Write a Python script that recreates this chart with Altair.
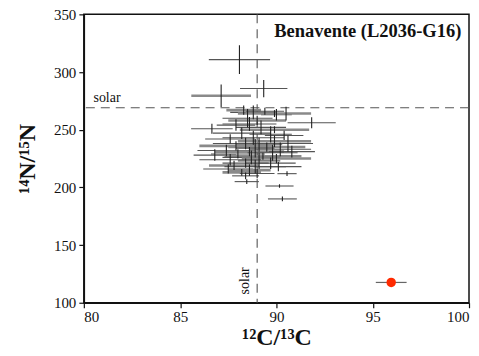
import altair as alt
import pandas as pd

# grain measurements: 12C/13C, error, 14N/15N, error, style group
x_vals = [88.08, 89.34, 87.13, 91.83, 86.65, 90.16, 90.31, 88.46, 90.55,
          88.3, 88.8, 89.4, 90.0, 90.5, 89.9, 88.5, 89.0, 88.6, 87.9,
          89.9, 89.2, 88.2, 89.7, 90.4, 88.8, 87.6, 89.9, 88.4, 90.6,
          89.1, 87.9, 89.5, 88.9, 90.2, 87.4, 88.6, 89.8, 90.8, 88.0,
          86.8, 89.3, 88.7, 90.0, 87.6, 89.1, 88.4, 89.7, 87.8, 88.9,
          90.1, 87.5, 88.6, 88.2, 89.0, 88.4]
x_err = [1.59, 1.23, 1.55, 1.25, 1.08, 0.73, 0.75, 0.63, 0.5,
         0.9, 1.2, 1.0, 0.8, 1.2, 1.9, 1.3, 1.5, 1.4, 1.0,
         1.8, 1.3, 1.5, 1.1, 1.0, 1.6, 1.3, 1.9, 1.7, 1.3,
         1.2, 1.9, 2.0, 1.0, 1.6, 1.5, 1.8, 1.3, 1.2, 1.4,
         1.1, 2.0, 1.5, 1.8, 1.6, 1.1, 1.2, 1.3, 1.3, 1.6,
         1.2, 1.3, 1.1, 1.0, 0.9, 0.7]
y_vals = [310.8, 285.7, 279.4, 256.0, 250.8, 201.2, 190.0, 205.0, 211.9,
          267, 265, 266, 263, 264, 264, 260, 258, 255, 254,
          250, 252, 247, 246, 245, 243, 242, 240, 238, 238,
          237, 236, 235, 234, 233, 232, 231, 230, 231, 229,
          228, 227, 226, 225, 224, 223, 221, 221, 219, 218,
          218, 216, 215, 213, 212, 210]
y_err = [12.5, 7.5, 9.7, 4.8, 4.3, 1.5, 2.0, 2.0, 2.0,
         4, 6, 3, 5, 6, 3, 8, 4, 6, 5,
         3, 6, 5, 7, 4, 6, 4, 5, 5, 7,
         6, 4, 4, 8, 6, 5, 4, 7, 5, 4,
         5, 3, 6, 4, 5, 7, 4, 5, 4, 6,
         4, 4, 5, 3, 4, 3]
groups = ["A", "A", "B", "A", "A", "A", "A", "A", "A",
          "B", "A", "A", "A", "A", "B", "A", "B", "A", "A",
          "B", "A", "A", "A", "A", "A", "A", "B", "A", "A",
          "A", "B", "B", "A", "A", "A", "B", "A", "A", "A",
          "A", "B", "A", "B", "A", "A", "A", "A", "B", "A",
          "A", "A", "B", "B", "A", "A"]

# special grain (red)
red_x = [95.96]
red_xerr = [0.8]
red_y = [117.6]

solar_c = 89.0
solar_n = 269.0

df = pd.DataFrame({"x": x_vals, "xe": x_err, "y": y_vals, "ye": y_err, "g": groups})
df["x1"] = df["x"] - df["xe"]
df["x2"] = df["x"] + df["xe"]
df["y1"] = df["y"] - df["ye"]
df["y2"] = df["y"] + df["ye"]

rdf = pd.DataFrame({"x": red_x, "xe": red_xerr, "y": red_y})
rdf["x1"] = rdf["x"] - rdf["xe"]
rdf["x2"] = rdf["x"] + rdf["xe"]

xs = alt.Scale(domain=[80, 100], nice=False, zero=False)
ys = alt.Scale(domain=[100, 350], nice=False, zero=False)

xaxis = alt.Axis(values=[80, 85, 90, 95, 100], title="¹²C/¹³C", grid=False,
                 labelPadding=2, titlePadding=1)
yaxis = alt.Axis(values=[100, 150, 200, 250, 300, 350], title="¹⁴N/¹⁵N", grid=False,
                 labelPadding=3, titlePadding=14)

base = alt.Chart(df)

hbars = base.mark_rule().encode(
    x=alt.X("x1:Q", scale=xs, axis=xaxis),
    x2="x2:Q",
    y=alt.Y("y:Q", scale=ys, axis=yaxis),
    color=alt.Color("g:N", scale=alt.Scale(domain=["A", "B"], range=["#555555", "#8a8a8a"]), legend=None),
    strokeWidth=alt.StrokeWidth("g:N", scale=alt.Scale(domain=["A", "B"], range=[1.1, 2.6]), legend=None),
)
vbars = base.mark_rule(color="#222222", strokeWidth=1.1).encode(
    x=alt.X("x:Q", scale=xs, axis=xaxis),
    y=alt.Y("y1:Q", scale=ys, axis=yaxis),
    y2="y2:Q",
)

sol_c = alt.Chart(pd.DataFrame({"v": [solar_c]})).mark_rule(
    color="#555", strokeDash=[9, 6], strokeWidth=1.1).encode(x=alt.X("v:Q", scale=xs, axis=xaxis))
sol_n = alt.Chart(pd.DataFrame({"v": [solar_n]})).mark_rule(
    color="#555", strokeDash=[9, 6], strokeWidth=1.1).encode(y=alt.Y("v:Q", scale=ys, axis=yaxis))

rbar = alt.Chart(rdf).mark_rule(color="#666", strokeWidth=1.2).encode(
    x=alt.X("x1:Q", scale=xs, axis=xaxis), x2="x2:Q", y=alt.Y("y:Q", scale=ys, axis=yaxis))
rdot = alt.Chart(rdf).mark_circle(color="#ff2a00", opacity=1, size=90).encode(
    x=alt.X("x:Q", scale=xs, axis=xaxis), y=alt.Y("y:Q", scale=ys, axis=yaxis))

label_df = pd.DataFrame({"x": [80.5], "y": [271.0], "t": ["solar"]})
lab_h = alt.Chart(label_df).mark_text(
    align="left", baseline="bottom", font="Liberation Serif", fontSize=14, color="#111"
).encode(x=alt.X("x:Q", scale=xs, axis=xaxis), y=alt.Y("y:Q", scale=ys, axis=yaxis), text="t:N")

label_v = pd.DataFrame({"x": [88.75], "y": [119.0], "t": ["solar"]})
lab_v = alt.Chart(label_v).mark_text(
    align="center", baseline="bottom", angle=270, font="Liberation Serif", fontSize=14, color="#111"
).encode(x=alt.X("x:Q", scale=xs, axis=xaxis), y=alt.Y("y:Q", scale=ys, axis=yaxis), text="t:N")

title_df = pd.DataFrame({"x": [99.6], "y": [343.0], "t": ["Benavente (L2036-G16)"]})
ttl = alt.Chart(title_df).mark_text(
    align="right", baseline="top", font="Liberation Serif", fontSize=18.5, fontWeight="bold", color="#111"
).encode(x=alt.X("x:Q", scale=xs, axis=xaxis), y=alt.Y("y:Q", scale=ys, axis=yaxis), text="t:N")

chart = alt.layer(sol_c, sol_n, hbars, vbars, rbar, rdot, lab_h, lab_v, ttl).properties(
    width=386, height=289,
    background="white",
    autosize=alt.AutoSizeParams(type="none"),
    padding={"left": 76, "top": 6, "right": 2, "bottom": 50},
).configure_view(stroke="#111", strokeWidth=1.5).configure_axis(
    labelFont="Liberation Serif", labelFontSize=15, labelColor="#111",
    titleFont="Liberation Serif", titleFontSize=24, titleFontWeight="bold",
    titleColor="#111", tickSize=5, tickColor="#111", domainColor="#111",
    domainWidth=1.5, tickWidth=1.2
)

chart.save("out.html", embed_options={"renderer": "svg", "actions": False})
